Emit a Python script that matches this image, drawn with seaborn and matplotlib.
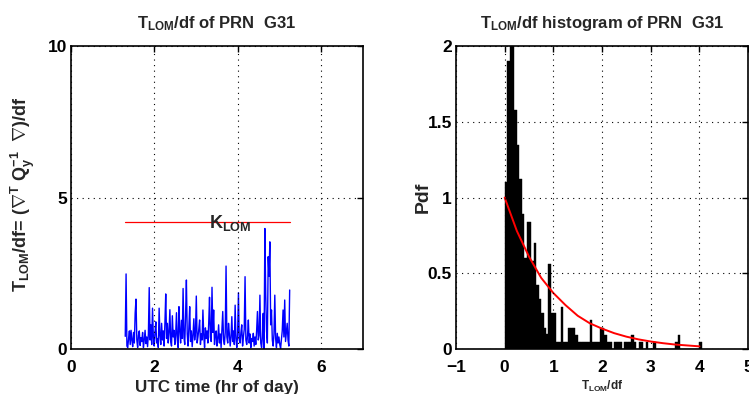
import numpy as np
import pandas as pd
import matplotlib
matplotlib.use('Agg')
import matplotlib.pyplot as plt
import seaborn as sns

t_start, t_end = 1.30, 5.24
tlom_values = [
    0.42, 2.48, 0.10, 0.05, 0.35, 0.60, 0.15, 0.62, 0.30, 0.08,
    0.55, 0.20, 1.19, 1.65, 0.30, 0.05, 0.45, 0.60, 0.12, 0.38,
    0.25, 0.55, 0.05, 0.30, 0.62, 0.18, 0.40, 0.08, 0.50, 2.03,
    0.30, 0.80, 0.15, 1.35, 0.40, 0.10, 0.55, 0.90, 0.20, 0.35,
    0.05, 1.35, 0.45, 0.15, 0.85, 0.30, 0.60, 0.10, 0.85, 1.82,
    0.35, 0.85, 0.20, 0.55, 1.30, 0.25, 0.10, 1.10, 0.40, 0.62,
    0.15, 0.45, 1.20, 0.30, 0.05, 1.40, 0.60, 0.20, 0.95, 0.35,
    2.00, 0.40, 0.15, 1.10, 2.28, 0.50, 0.10, 0.70, 1.40, 0.25,
    0.60, 0.08, 0.45, 1.00, 0.30, 0.55, 1.75, 0.20, 0.40, 0.65,
    0.96, 0.15, 0.50, 0.30, 1.29, 0.45, 0.05, 0.70, 0.35, 0.60,
    0.20, 0.85, 1.71, 0.40, 0.25, 2.04, 0.55, 1.29, 0.15, 0.45,
    0.60, 0.10, 0.35, 0.80, 0.20, 0.50, 0.05, 0.65, 1.24, 0.30,
    0.15, 0.55, 2.74, 0.40, 0.20, 0.85, 0.50, 0.10, 0.40, 1.07,
    0.25, 0.60, 0.15, 1.45, 0.35, 0.05, 0.50, 1.86, 0.30, 0.20,
    0.55, 0.80, 0.10, 0.40, 0.65, 2.39, 0.30, 0.15, 0.45, 0.96,
    0.20, 0.50, 0.05, 0.35, 0.25, 0.52, 0.10, 0.40, 0.15, 0.60,
    1.24, 0.30, 0.45, 1.78, 0.20, 0.05, 0.40, 1.18, 0.02, 3.98,
    1.80, 0.60, 0.20, 3.05, 2.40, 3.54, 0.80, 1.29, 0.30, 0.10,
    0.50, 1.78, 0.35, 0.05, 0.52, 0.20, 0.40, 0.15, 0.02, 0.30,
    0.60, 1.29, 0.40, 1.62, 0.25, 0.55, 0.85, 0.30, 0.10, 1.95,
]
k_lom = 4.2

# histogram: density per bin of width 0.05 starting at 0
bin_width = 0.05
hist_heights = [
    1.10, 1.90, 2.50, 2.20, 1.58, 1.35, 1.12, 0.89, 0.60, 0.84,
    0.84, 0.58, 0.70, 0.42, 0.33, 0.24, 0.14, 0.10, 0.56, 0.24,
    0.24, 0.05, 0.05, 0.28, 0.05, 0.05, 0.14, 0.14, 0.14, 0.09,
    0.05, 0.05, 0.05, 0.05, 0.05, 0.19, 0.05, 0.05, 0.05, 0.14,
    0.14, 0.09, 0.05, 0.05, 0.00, 0.05, 0.05, 0.05, 0.00, 0.05,
    0.05, 0.05, 0.09, 0.05, 0.00, 0.05, 0.05, 0.00, 0.05, 0.00,
    0.00, 0.05, 0.00, 0.00, 0.00, 0.00, 0.00, 0.00, 0.00, 0.00,
    0.05, 0.09, 0.00, 0.00, 0.00, 0.00, 0.00, 0.00, 0.00, 0.00,
    0.05,
]
# theoretical pdf curve (red), read at 0.25 steps
pdf_x = [0, 0.25, 0.5, 0.75, 1.0, 1.25, 1.5, 1.75, 2.0, 2.25, 2.5, 2.75, 3.0, 3.25, 3.5, 3.75, 4.0]
pdf_y = [1.0, 0.78, 0.61, 0.47, 0.37, 0.29, 0.22, 0.17, 0.135, 0.105, 0.082, 0.064, 0.05, 0.039, 0.030, 0.024, 0.018]

sns.set_theme(style='white')
plt.rcParams['font.family'] = ['Liberation Sans', 'DejaVu Sans']
plt.rcParams['font.weight'] = 'bold'
plt.rcParams['mathtext.fontset'] = 'custom'
plt.rcParams['mathtext.rm'] = 'Liberation Sans:bold'
plt.rcParams['mathtext.it'] = 'Liberation Sans:bold'
plt.rcParams['mathtext.bf'] = 'Liberation Sans:bold'
plt.rcParams['mathtext.default'] = 'bf'

fig = plt.figure(figsize=(7.49, 3.94), dpi=100)
ax1 = fig.add_axes([0.0948, 0.114, 0.390, 0.769])
ax2 = fig.add_axes([0.6088, 0.114, 0.390, 0.769])

grid_kw = dict(color='black', linestyle=(0, (1, 4)), linewidth=0.8)

# left: time series
t = np.linspace(t_start, t_end, len(tlom_values))
sns.lineplot(x=t, y=tlom_values, ax=ax1, color='blue', linewidth=1.0, estimator=None)
sns.lineplot(x=[t_start, t_end], y=[k_lom, k_lom], ax=ax1, color='red', linewidth=0.9, estimator=None)
ax1.text(3.3, 3.98, r'$K_{LOM}$', fontsize=13, ha='left', va='baseline')
ax1.set_xlim(0, 7)
ax1.set_ylim(0, 10)
ax1.set_xticks([0, 2, 4, 6])
ax1.set_yticks([0, 5, 10])
ax1.set_title(r'$T_{LOM}$/df of PRN  G31', fontsize=12, fontweight='bold', pad=13)
ax1.set_xlabel('UTC time (hr of day)', fontsize=12.3, fontweight='bold')
ax1.set_ylabel(r'$T_{LOM}$/df= ($\nabla^T$ $Q_y^{-1}$  $\nabla$)/df', fontsize=13, fontweight='bold')
ax1.xaxis.set_label_coords(0.5, -0.103)
ax1.yaxis.set_label_coords(-0.118, 0.51)

# right: histogram
edges = np.arange(len(hist_heights) + 1) * bin_width
hist_df = pd.DataFrame({'x': edges[:-1] + bin_width / 2, 'w': hist_heights})
sns.histplot(data=hist_df, x='x', weights='w', bins=list(edges), stat='count', ax=ax2,
             color='black', edgecolor='black', linewidth=0.3, alpha=1)
sns.lineplot(x=pdf_x, y=pdf_y, ax=ax2, color='red', linewidth=1.4, estimator=None)
ax2.set_xlim(-1, 5)
ax2.set_ylim(0, 2)
ax2.set_xticks([-1, 0, 1, 2, 3, 4, 5])
ax2.set_yticks([0, 0.5, 1, 1.5, 2])
ax2.set_yticklabels(['0', '0.5', '1', '1.5', '2'])
ax2.set_title(r'$T_{LOM}$/df histogram of PRN  G31', fontsize=12, fontweight='bold', pad=13)
ax2.set_xlabel(r'$T_{LOM}$/df', fontsize=8.5, fontweight='bold')
ax2.set_ylabel('Pdf', fontsize=14, fontweight='bold')
ax2.xaxis.set_label_coords(0.5, -0.1)
ax2.yaxis.set_label_coords(-0.082, 0.5)

for ax in (ax1, ax2):
    ax.grid(True, **grid_kw)
    ax.set_axisbelow(False)
    for s in ax.spines.values():
        s.set_color('black')
        s.set_linewidth(1.2)
    ax.tick_params(direction='in', length=4, width=1, top=True, right=True,
                   labelsize=12.5, colors='black')
    ax.tick_params(axis='x', pad=8)
    ax.tick_params(axis='y', pad=3)
    for lab in ax.get_xticklabels() + ax.get_yticklabels():
        lab.set_fontweight('bold')

fig.savefig('out.png', dpi=100, facecolor='white')
